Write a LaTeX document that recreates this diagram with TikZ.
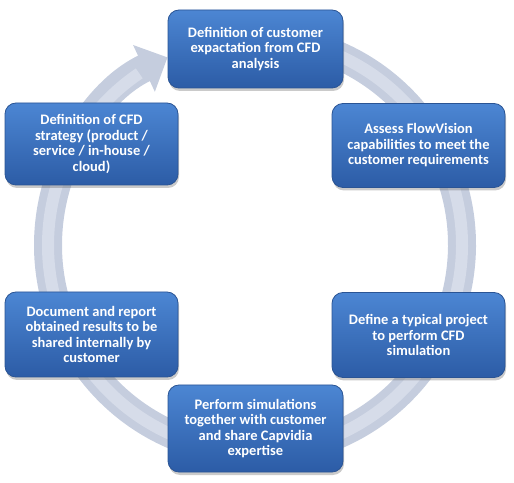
\documentclass[tikz,border=0pt]{standalone}
\usepackage{fontspec}
\setmainfont{Carlito}
\usetikzlibrary{arrows.meta,shadows}
\definecolor{ringc}{HTML}{C5CDDE}
\definecolor{ringl}{HTML}{D6DCE9}
\definecolor{boxtop}{HTML}{4C86D3}
\definecolor{boxbot}{HTML}{2C5CA6}
\definecolor{boxrim}{HTML}{2A5494}
\begin{document}
\begin{tikzpicture}[x=1pt,y=1pt,
  stepbox/.style={rounded corners=11pt, top color=boxtop, bottom color=boxbot,
    draw=boxrim, line width=0.8pt, text=white, align=center,
    font=\bfseries\fontsize{14.5}{15.5}\selectfont, inner sep=0pt,
    drop shadow={shadow xshift=1pt, shadow yshift=-3pt, opacity=0.35, fill=black!60}},
  ring/.style={line width=28pt, draw=ringc},
  ringin/.style={line width=12pt, draw=ringl}]
\useasboundingbox (0,0) rectangle (514,482);
\coordinate (c) at (255,237);
% ring
\draw[ring, -{Triangle[width=50pt,length=26pt]}] ([shift={(85:207)}]c) arc[start angle=85, end angle=-245, radius=207];
\draw[ringin] ([shift={(85:207)}]c) arc[start angle=85, end angle=-236, radius=207];
% boxes
\node[stepbox, minimum width=175pt, minimum height=78pt] (n1) at (255.5,433)
  {Definition of customer\\expactation from CFD\\analysis};
\node[stepbox, minimum width=173pt, minimum height=84pt] (n2) at (418.5,336.5)
  {Assess FlowVision\\capabilities to meet the\\customer requirements};
\node[stepbox, minimum width=173pt, minimum height=85pt] (n3) at (418.5,147)
  {Define a typical project\\to perform CFD\\simulation};
\node[stepbox, minimum width=175pt, minimum height=87pt] (n4) at (255.5,53.5)
  {Perform simulations\\together with customer\\and share Capvidia\\expertise};
\node[stepbox, minimum width=173pt, minimum height=85pt] (n5) at (91.5,147.5)
  {Document and report\\obtained results to be\\shared internally by\\customer};
\node[stepbox, minimum width=173pt, minimum height=82pt] (n6) at (91.5,338)
  {Definition of CFD\\strategy (product /\\service / in-house /\\cloud)};
\end{tikzpicture}
\end{document}
